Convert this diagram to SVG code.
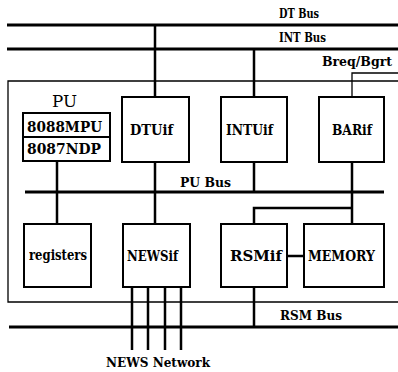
<svg xmlns="http://www.w3.org/2000/svg" width="398" height="372" viewBox="0 0 398 372">
<style>
.box{fill:#fff;stroke:#000;stroke-width:2}
.lbl{font-family:'DejaVu Serif','Liberation Serif',serif;font-weight:bold;font-size:14px;fill:#000}
.bus{font-family:'DejaVu Serif','Liberation Serif',serif;font-weight:bold;font-size:12.5px;fill:#000}
.wire{fill:none;stroke:#000;stroke-width:2.5}
.busline{fill:none;stroke:#000;stroke-width:3.2}
.thin{fill:none;stroke:#000;stroke-width:1.3}
</style>
<rect width="398" height="372" fill="#fff"/>
<g id="connectors">
<path class="busline" d="M7 25H400M7 49H400M9 327H400"/>
<path class="thin" d="M400 81H8V302H400" stroke-width="1.6"/>
<path class="busline" d="M25 192H384" stroke-width="2.8"/>
<path class="wire" d="M155 25V97M155 162V224M254 49V97M254 162V192M57 161V224M352 162V224M254 224V208H352M287 256H304M254 287V327M132 287V350M148 287V350M165 287V350M181 287V350"/>
<path class="thin" d="M352 97V73H400"/>
</g>
<g id="labels">
<text class="bus" x="279" y="18" textLength="40" lengthAdjust="spacingAndGlyphs">DT Bus</text>
<text class="bus" x="279" y="42" textLength="47" lengthAdjust="spacingAndGlyphs">INT Bus</text>
<text class="bus" x="392" y="66" font-size="11px" text-anchor="end">Breq/Bgrt</text>
<text class="bus" x="180" y="187" textLength="51" lengthAdjust="spacingAndGlyphs">PU Bus</text>
<text class="bus" x="280" y="320" textLength="62" lengthAdjust="spacingAndGlyphs">RSM Bus</text>
<text class="bus" x="106" y="367" textLength="104" lengthAdjust="spacingAndGlyphs" font-size="13.5px">NEWS Network</text>
</g>
<g id="PU">
<text x="52" y="107" font-family="'DejaVu Serif','Liberation Serif',serif" font-size="17px" textLength="25" lengthAdjust="spacingAndGlyphs">PU</text>
<rect class="box" x="23" y="113" width="87" height="24"/>
<rect class="box" x="23" y="137" width="87" height="24"/>
<text class="lbl" x="27" y="132" textLength="75" lengthAdjust="spacingAndGlyphs" font-size="13px">8088MPU</text>
<text class="lbl" x="27" y="154" textLength="74" lengthAdjust="spacingAndGlyphs" font-size="13px">8087NDP</text>
</g>
<g id="DTUif">
<rect class="box" x="122" y="97" width="67" height="65"/>
<text class="lbl" x="130" y="135" textLength="43" lengthAdjust="spacingAndGlyphs">DTUif</text>
</g>
<g id="INTUif">
<rect class="box" x="221" y="97" width="66" height="65"/>
<text class="lbl" x="226" y="135" textLength="47" lengthAdjust="spacingAndGlyphs">INTUif</text>
</g>
<g id="BARif">
<rect class="box" x="319" y="97" width="65" height="65"/>
<text class="lbl" x="332" y="135" textLength="40" lengthAdjust="spacingAndGlyphs">BARif</text>
</g>
<g id="registers">
<rect class="box" x="24" y="224" width="67" height="63"/>
<text class="lbl" x="29" y="260" textLength="58" lengthAdjust="spacingAndGlyphs">registers</text>
</g>
<g id="NEWSif">
<rect class="box" x="123" y="224" width="67" height="63"/>
<text class="lbl" x="127" y="261" textLength="51" lengthAdjust="spacingAndGlyphs">NEWSif</text>
</g>
<g id="RSMif">
<rect class="box" x="221" y="224" width="66" height="63"/>
<text class="lbl" x="230" y="261" textLength="52" lengthAdjust="spacingAndGlyphs">RSMif</text>
</g>
<g id="MEMORY">
<rect class="box" x="304" y="224" width="80" height="63"/>
<text class="lbl" x="308" y="261" textLength="67" lengthAdjust="spacingAndGlyphs">MEMORY</text>
</g>
</svg>
